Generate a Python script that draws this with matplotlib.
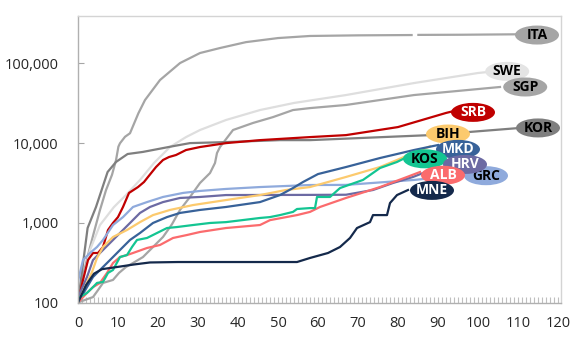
import numpy as np
import matplotlib
matplotlib.use("Agg")
import matplotlib.pyplot as plt
from matplotlib.patches import Ellipse
from matplotlib.transforms import ScaledTranslation
from matplotlib.ticker import FixedLocator, FuncFormatter, NullLocator

plt.rcParams['font.family'] = ['Open Sans', 'DejaVu Sans']

# Cumulative confirmed cases (log scale) by days since the 100th case
ita_days = [0, 1, 2.5, 4, 5.5, 7, 8.5, 9.5, 10.1, 10.5, 11.75, 13, 15.1, 16.75, 20.5, 25.5,
            30.5, 35.5, 42, 50, 58, 70, 83.4, 84.2, 85.1, 96, 110]
ita_cases = [100, 192, 394, 765, 1450, 2570, 4000, 6100, 9020, 9960, 12000, 13300, 23700, 34700,
             61900, 101000, 135000, 156000, 185000, 208000, 221000, 225000, 227000, np.nan,
             228000, 229000, 232000]

swe_days = [0, 1, 3, 5.5, 9, 12, 15.5, 19, 23, 27, 30.5, 37, 45.5, 54, 67, 84, 100, 102.5]
swe_cases = [100, 166, 456, 938, 1580, 2230, 3450, 5630, 8930, 11900, 14600, 19500, 26000,
             31900, 40100, 56700, 75800, 78100]

sgp_days = [0, 3.75, 5, 6.25, 8.75, 10.25, 12, 13.75, 16.25, 18.75, 21.25, 23.5, 25.5, 28,
            30.5, 33, 34.25, 34.75, 35.5, 38.75, 43.75, 48.75, 53.75, 58, 67, 84, 105.5]
sgp_cases = [100, 117, 143, 176, 192, 235, 279, 313, 372, 497, 664, 960, 1450, 2110, 3160, 4210,
             5630, 7510, 8930, 14600, 17900, 21200, 26000, 27500, 30100, 40100, 50600]

kor_days = [0, 2.4, 4.5, 7.4, 9.5, 12.4, 16.2, 21.2, 24, 28, 37, 50.5, 58, 88, 110.5]
kor_cases = [100, 860, 1580, 4340, 5800, 7300, 7750, 8650, 9200, 10000, 10300, 10900, 10900,
             12600, 15500]

srb_days = [0, 1.25, 2.5, 3.75, 5, 6.25, 7.5, 8.75, 10, 11.25, 12.75, 15, 16.5, 17.5, 19.5,
            21.25, 22.75, 24.5, 27, 30.5, 37, 45.5, 58, 67, 80, 92, 94]
srb_cases = [100, 192, 341, 418, 418, 497, 812, 995, 1180, 1580, 2370, 2810, 3250, 3760, 5010,
             6140, 6690, 7090, 8190, 8930, 10000, 10900, 11900, 12600, 15900, 23900, 25300]

bih_days = [0, 2, 3.5, 4.75, 6.25, 8.75, 12.25, 15.5, 18.75, 23, 28.75, 37, 45.5, 52, 58, 67,
            75.5, 79.75, 83.75, 88]
bih_cases = [100, 166, 241, 362, 497, 664, 812, 1020, 1250, 1450, 1670, 1930, 2230, 2580, 2810,
             3760, 5010, 6140, 7510, 9100]

mkd_days = [0, 2.25, 3.75, 5.5, 8, 10.5, 13, 15.5, 18.75, 22.25, 25.5, 30.5, 37, 45.5, 50.5,
            53.75, 56.25, 60, 67, 75.5, 84, 90]
mkd_cases = [100, 156, 209, 256, 341, 456, 609, 745, 995, 1180, 1330, 1450, 1580, 1820, 2230,
             2730, 3250, 4090, 5010, 6500, 8190, 9460]

kos_days = [0, 0.5, 2.25, 3.75, 4.75, 6.25, 7.5, 8.75, 10.5, 12.25, 13.5, 14.75, 17.25, 19.75,
            22.25, 24.75, 28.75, 33, 37, 45.5, 48, 50.5, 53.75, 54.75, 58, 59.25, 59.75, 63,
            65.5, 71.25, 75.5, 79.75, 82.25]
kos_cases = [100, 117, 132, 156, 176, 181, 235, 256, 372, 394, 497, 609, 645, 745, 860, 885, 938,
             995, 1020, 1150, 1180, 1250, 1370, 1490, 1530, 1530, 2110, 2110, 2730, 3450, 4870,
             5800, 6690]

hrv_days = [0, 0.5, 2.25, 3.75, 5.5, 8, 10.5, 13, 15.5, 18, 21.25, 25.5, 30.5, 37, 58, 67,
            73.75, 78.75, 83.75, 86.25]
hrv_cases = [100, 132, 209, 341, 418, 558, 745, 995, 1330, 1580, 1820, 2050, 2110, 2230, 2240,
             2250, 2580, 3160, 3760, 4210]

alb_days = [0, 2.25, 3.75, 5.5, 7.25, 8.75, 10.5, 12.25, 13.75, 17.25, 20.5, 23.75, 27.25, 30.5,
            37, 45.5, 48, 54.75, 58, 60.5, 67, 75.5, 82.25, 85.5]
alb_cases = [100, 132, 156, 176, 235, 313, 372, 394, 418, 483, 527, 645, 703, 767, 860, 938, 1080,
             1250, 1370, 1580, 2050, 2810, 3760, 4340]

grc_days = [0, 1.25, 3, 4.75, 6.25, 8.75, 11.25, 13.75, 17.25, 21.25, 26.25, 30.5, 37, 45.5, 58,
            67, 84, 96]
grc_cases = [185, 341, 418, 497, 609, 938, 1180, 1580, 1820, 2110, 2370, 2510, 2660, 2810, 2980,
             2990, 3450, 3980]

mne_days = [0, 2, 4, 6, 10, 14, 18, 25, 54.75, 58, 62.5, 65.5, 68, 69.75, 73, 73.75, 77.25, 78,
            79.75, 82.5]
mne_cases = [100, 165, 230, 262, 280, 300, 318, 322, 322, 362, 418, 497, 645, 860, 1020, 1250,
             1250, 1770, 2230, 2580]

# code, days, cases, line colour, label text colour, label anchor (day, cases)
series = [
    ("ITA", ita_days, ita_cases, "#a5a5a5", "#a5a5a5", "black", (114.75, 227000)),
    ("SWE", swe_days, swe_cases, "#dedede", "#e4e4e4", "black", (107.3, 79500)),
    ("SGP", sgp_days, sgp_cases, "#a5a5a5", "#a5a5a5", "black", (111.8, 50600)),
    ("KOR", kor_days, kor_cases, "#7f7f7f", "#7f7f7f", "black", (115, 15500)),
    ("SRB", srb_days, srb_cases, "#c00000", "#c00000", "white", (98.75, 24300)),
    ("BIH", bih_days, bih_cases, "#fcca6e", "#fcca6e", "black", (92.5, 13000)),
    ("GRC", grc_days, grc_cases, "#8faadc", "#8faadc", "black", (102, 3900)),
    ("MKD", mkd_days, mkd_cases, "#386299", "#386299", "white", (95, 8350)),
    ("KOS", kos_days, kos_cases, "#13c592", "#13c592", "black", (86.75, 6350)),
    ("HRV", hrv_days, hrv_cases, "#6c6aa3", "#6c6aa3", "white", (96.75, 5400)),
    ("ALB", alb_days, alb_cases, "#fb6b6d", "#fb6b6d", "white", (91.25, 3950)),
    ("MNE", mne_days, mne_cases, "#14294b", "#14294b", "white", (88.5, 2550)),
]

fig = plt.figure(figsize=(5.72, 3.39), dpi=100)
ax = fig.add_axes([78 / 572, 36.5 / 339, 483 / 572, 286.5 / 339])
ax.set_yscale("log")
ax.set_xlim(0, 120.75)
ax.set_ylim(100, 10 ** 5.595)

line_order = ["ITA", "SWE", "SGP", "KOR", "SRB", "GRC", "HRV", "BIH", "MKD", "ALB", "KOS", "MNE"]
by_code = {s[0]: s for s in series}
for z, code in enumerate(line_order):
    _, d, c, col, _, _, _ = by_code[code]
    ax.plot(d, c, color=col, lw=1.6, solid_joinstyle="round", zorder=2 + z * 0.01)

# Oval country tags
label_order = ["ITA", "SWE", "SGP", "SRB", "KOR", "BIH", "GRC", "MKD", "KOS", "HRV", "ALB", "MNE"]
for k, code in enumerate(label_order):
    _, _, _, _, fc, tc, (lx, ly) = by_code[code]
    trans = fig.dpi_scale_trans + ScaledTranslation(lx, ly, ax.transData)
    ax.add_patch(Ellipse((0, 0), 0.44, 0.19, transform=trans, facecolor=fc,
                         edgecolor="none", clip_on=False, zorder=5 + k * 0.1))
    ax.text(lx, ly, code, ha="center", va="center", fontsize=10, fontweight="bold",
            color=tc, zorder=5.05 + k * 0.1, clip_on=False)

# Axes styling
ax.yaxis.set_major_locator(FixedLocator([100, 1000, 10000, 100000]))
ax.yaxis.set_minor_locator(NullLocator())
ax.yaxis.set_major_formatter(FuncFormatter(lambda v, p: f"{v:,.0f}"))
ax.xaxis.set_major_locator(FixedLocator(np.arange(0, 121, 10)))
ax.xaxis.set_minor_locator(FixedLocator(np.arange(0, 121, 1)))

ax.tick_params(axis="y", which="major", direction="in", length=4, width=0.8,
               color="#a6a6a6", labelsize=10.5, labelcolor="#262626", pad=14)
ax.tick_params(axis="x", which="both", direction="in", length=4, width=0.8,
               color="#bfbfbf", labelsize=10.5, labelcolor="#262626", pad=10)

for side in ["left", "bottom"]:
    ax.spines[side].set_color("#b0b0b0")
    ax.spines[side].set_linewidth(1.0)
for side in ["top", "right"]:
    ax.spines[side].set_color("#d4d4d4")
    ax.spines[side].set_linewidth(1.0)

fig.savefig("out.png", dpi=100)
